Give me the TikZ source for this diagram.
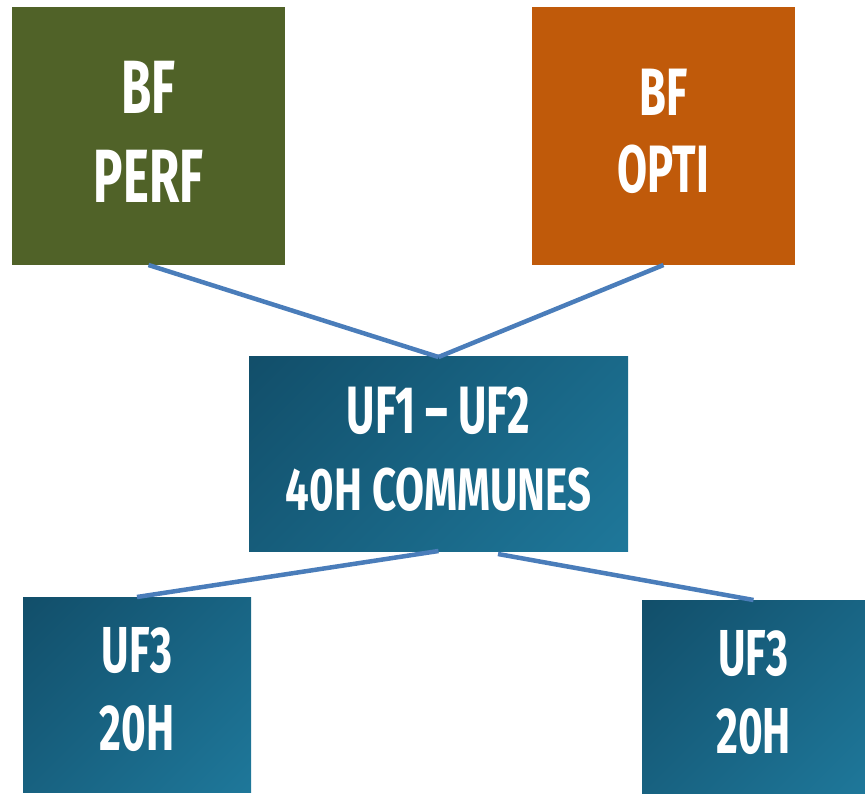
\documentclass[tikz,border=0pt]{standalone}
\usepackage{fontspec}
\newfontfamily\condfont[FakeStretch=0.65]{Fira Sans}
\newfontfamily\condwidefont[FakeStretch=0.70]{Fira Sans}
\definecolor{perfgreen}{HTML}{506228}
\definecolor{optiorange}{HTML}{C05A0A}
\definecolor{tealdark}{HTML}{0F4660}
\definecolor{teallight}{HTML}{2180A4}
\definecolor{linkblue}{HTML}{4A7DBA}
\pgfdeclarehorizontalshading{tealgrad}{100bp}{color(0bp)=(tealdark); color(100bp)=(teallight)}
\tikzset{
  box/.style={inner sep=0pt, outer sep=0pt, draw=none},
  tealbox/.style={box, shade, shading=tealgrad, shading angle=-45},
  label text/.style={text=white, align=center, inner sep=0pt, font=\condfont\bfseries},
  link/.style={draw=linkblue, line width=4.5pt}
}
\begin{document}
\begin{tikzpicture}[x=1pt,y=-1pt]
\useasboundingbox (0,0) rectangle (865,794);
% boxes
\node[box, fill=perfgreen, minimum width=273pt, minimum height=258pt] (b1) at (148.5,136) {};
\node[box, fill=optiorange, minimum width=263pt, minimum height=258pt] (b2) at (663.5,136) {};
\node[tealbox, minimum width=379pt, minimum height=194pt] (u12) at (438.5,454) {};
\node[tealbox, minimum width=228pt, minimum height=195pt] (u3a) at (137,694.5) {};
\node[tealbox, minimum width=223pt, minimum height=194pt] (u3b) at (753.5,697) {};
% texts
\node[label text, font=\condfont\bfseries\fontsize{75.5}{89}\selectfont] (t1) at (148.5,131.5) {BF\\PERF};
\node[label text, font=\condfont\bfseries\fontsize{67}{77}\selectfont] (t2) at (663.5,131.5) {BF\\OPTI};
\node[label text, font=\condfont\bfseries\fontsize{67}{77}\selectfont] (t3) at (438.5,449.5) {UF1 – UF2\\{\condwidefont\bfseries\fontsize{60}{77}\selectfont 40H COMMUNES}};
\node[label text, font=\condfont\bfseries\fontsize{65}{78}\selectfont] (t4) at (137,690) {UF3\\20H};
\node[label text, font=\condfont\bfseries\fontsize{65}{78}\selectfont] (t5) at (753.5,692.5) {UF3\\20H};
% connectors
\coordinate (rs) at (498,554);
\draw[link] (b1.south) -- (u12.north);
\draw[link] (b2.south) -- (u12.north);
\draw[link] (u12.south) -- (u3a.north);
\draw[link] (rs) -- (u3b.north);
\end{tikzpicture}
\end{document}
